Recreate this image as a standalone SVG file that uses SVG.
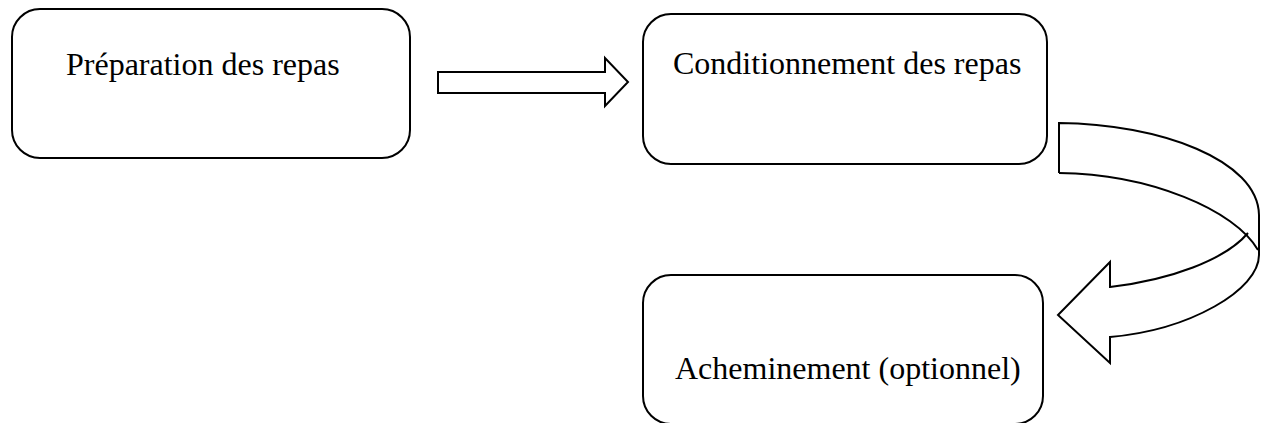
<svg xmlns="http://www.w3.org/2000/svg" width="1263" height="423" viewBox="0 0 1263 423">
<style>
.box{fill:#fff;stroke:#000;stroke-width:2}
.lbl{font-family:"Liberation Serif","Times New Roman",serif;font-size:32px;fill:#000}
.conn{fill:#fff;stroke:#000;stroke-width:2;stroke-linejoin:miter}
</style>
<rect width="1263" height="423" fill="#fff"/>
<g id="node-preparation">
<rect class="box" x="12" y="9" width="398" height="149" rx="28" ry="28"/>
<text class="lbl" x="66" y="75">Préparation des repas</text>
</g>
<g id="node-conditionnement">
<rect class="box" x="643" y="14" width="404" height="150" rx="28" ry="28"/>
<text class="lbl" x="673" y="74">Conditionnement des repas</text>
</g>
<g id="node-acheminement">
<rect class="box" x="643" y="275" width="400" height="149" rx="28" ry="28"/>
<text class="lbl" x="675" y="379">Acheminement (optionnel)</text>
</g>
<g id="connectors">
<path class="conn" d="M438,72 L605,72 L605,58 L628,82 L605,106 L605,93 L438,93 Z"/>
<path class="conn" d="M1059,173 L1059,123 C1160,124 1258,160 1259,215 L1259,255 C1259,290 1190,330 1110,337 L1110,363 L1058,315 L1110,262 L1110,287 C1170,280 1225,260 1248,233"/>
<path class="conn" fill="none" style="fill:none" d="M1059,173 C1150,174 1235,210 1258,250"/>
</g>
</svg>
